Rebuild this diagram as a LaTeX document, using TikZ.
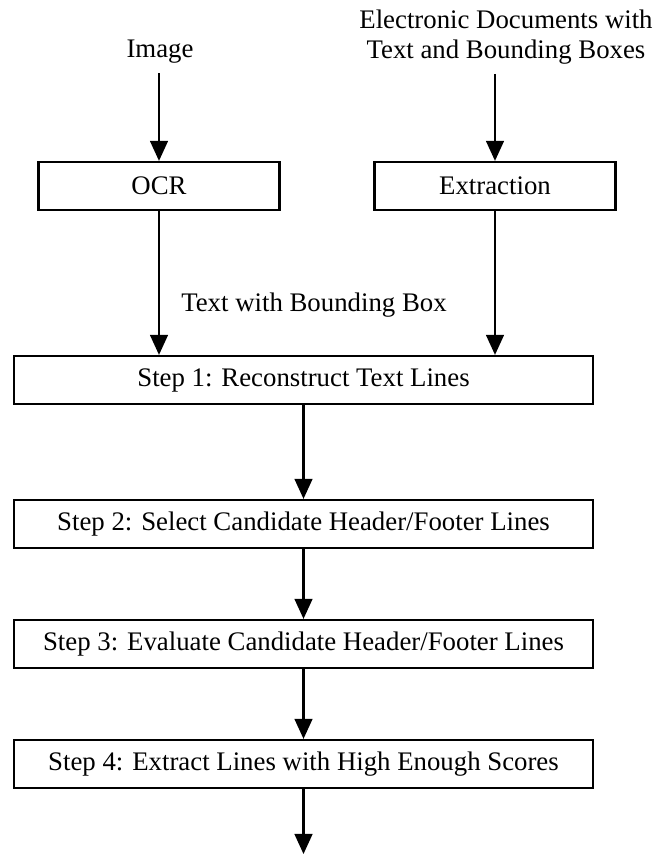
\documentclass[tikz,border=0pt]{standalone}
\usepackage{fontspec}
\setmainfont{Liberation Serif}
\usetikzlibrary{arrows.meta}
\begin{document}
\begin{tikzpicture}[x=0.4478pt,y=-0.4478pt,
  txt/.style={font=\fontsize{12}{13.8}\selectfont},
  box/.style={txt, draw, line width=1pt, inner sep=0pt, minimum height={48*0.4478pt}},
  smallbox/.style={box, minimum width={241*0.4478pt}},
  stepbox/.style={box, minimum width={579*0.4478pt}},
  lbl/.style={txt, inner sep=0pt},
  arr/.style={line width=0.9pt, -{Triangle[length=9pt,width=8pt]}}]
\useasboundingbox (0,0) rectangle (656,855);
\node[lbl] (img) at (160,52) {Image};
\node[lbl, align=center] (edoc) at (506,37) {Electronic Documents with\\Text and Bounding Boxes};
\node[smallbox] (ocr) at (159,186) {OCR};
\node[smallbox] (ext) at (495,186) {Extraction};
\node[lbl] (twbb) at (314,305) {Text with Bounding Box};
\node[stepbox] (s1) at (303.5,380) {Step 1: Reconstruct Text Lines};
\node[stepbox] (s2) at (303.5,524) {Step 2: Select Candidate Header/Footer Lines};
\node[stepbox] (s3) at (303.5,644) {Step 3: Evaluate Candidate Header/Footer Lines};
\node[stepbox] (s4) at (303.5,764) {Step 4: Extract Lines with High Enough Scores};
\coordinate (fin) at (303.5,854);
\draw[arr] ([yshift=-4pt]ocr.north |- img.south) -- (ocr.north);
\draw[arr] ([yshift=-4pt]ext.north |- edoc.south) -- (ext.north);
\draw[arr] (ocr.south) -- (ocr.south |- s1.north);
\draw[arr] (ext.south) -- (ext.south |- s1.north);
\draw[arr] (s1.south) -- (s2.north);
\draw[arr] (s2.south) -- (s3.north);
\draw[arr] (s3.south) -- (s4.north);
\draw[arr] (s4.south) -- (fin);
\end{tikzpicture}
\end{document}
